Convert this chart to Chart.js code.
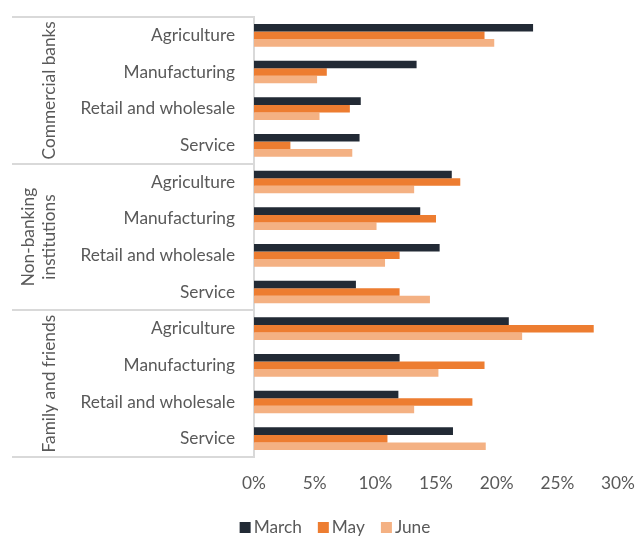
<!DOCTYPE html>
<html>
<head>
<meta charset="utf-8">
<script src="https://cdn.jsdelivr.net/npm/chart.js@4/dist/chart.umd.min.js"></script>
<style>
  html, body { margin: 0; padding: 0; background: #fff; }
  canvas { display: block; }
</style>
</head>
<body>
<canvas id="chart" width="641" height="537"></canvas>
<script>
// Sectors, repeated for each source of finance
const sectors = [
  'Agriculture', 'Manufacturing', 'Retail and wholesale', 'Service',
  'Agriculture', 'Manufacturing', 'Retail and wholesale', 'Service',
  'Agriculture', 'Manufacturing', 'Retail and wholesale', 'Service'
];
// Source of finance groups (multi-line entries wrap onto several lines)
const sources = ['Commercial banks', ['Non-banking', 'institutions'], 'Family and friends'];
const sectorsPerSource = 4;

// Share of firms (%) by month
const march = [23, 13.4, 8.8, 8.7, 16.3, 13.7, 15.3, 8.4, 21, 12, 11.9, 16.4];
const may   = [19, 6, 7.9, 3, 17, 15, 12, 12, 28, 19, 18, 11];
const june  = [19.8, 5.2, 5.4, 8.1, 13.2, 10.1, 10.8, 14.5, 22.1, 15.2, 13.2, 19.1];

const seriesNames = ['March', 'May', 'June'];
const xTickLabels = ['0%', '5%', '10%', '15%', '20%', '25%', '30%'];

const FONT = 'Lato';
const FONT_SIZE = 17.3;
const TEXT = '#595959';
const RULE = '#d9d9d9';
const colors = ['#222a35', '#ed7d31', '#f4b183'];

Chart.defaults.font.family = FONT;
Chart.defaults.font.size = FONT_SIZE;
Chart.defaults.color = TEXT;

// Group labels and separator rules on the left of the category axis
const groupAxis = {
  id: 'groupAxis',
  afterDraw(chart) {
    const ctx = chart.ctx;
    const y = chart.scales.y;
    const band = y.getPixelForValue(1) - y.getPixelForValue(0);
    const left = 12;
    const right = chart.chartArea.left;
    ctx.save();
    ctx.strokeStyle = RULE;
    ctx.lineWidth = 2;
    for (let g = 0; g <= sources.length; g++) {
      const py = Math.round(y.getPixelForValue(g * sectorsPerSource) - band / 2);
      ctx.beginPath();
      ctx.moveTo(left, py);
      ctx.lineTo(right, py);
      ctx.stroke();
    }
    ctx.fillStyle = TEXT;
    ctx.font = FONT_SIZE + 'px ' + FONT;
    ctx.textAlign = 'center';
    ctx.textBaseline = 'alphabetic';
    sources.forEach((label, g) => {
      const lines = Array.isArray(label) ? label : [label];
      const top = y.getPixelForValue(g * sectorsPerSource) - band / 2;
      const bottom = y.getPixelForValue((g + 1) * sectorsPerSource) - band / 2;
      ctx.save();
      ctx.translate(55, (top + bottom) / 2);
      ctx.rotate(-Math.PI / 2);
      lines.forEach((line, i) => {
        ctx.fillText(line, 0, (i - (lines.length - 1)) * 21);
      });
      ctx.restore();
    });
    ctx.restore();
  }
};

// Legend drawn as a single centred row under the axis
const rowLegend = {
  id: 'rowLegend',
  afterDraw(chart) {
    const ctx = chart.ctx;
    ctx.save();
    ctx.font = FONT_SIZE + 'px ' + FONT;
    ctx.textBaseline = 'alphabetic';
    ctx.textAlign = 'left';
    const box = 11, gapText = 3, gapItem = 16;
    const items = chart.data.datasets.map(ds => ({
      text: ds.label, color: ds.backgroundColor, w: ctx.measureText(ds.label).width
    }));
    const total = items.reduce((s, it) => s + box + gapText + it.w, 0) + gapItem * (items.length - 1);
    let x = 335 - total / 2;
    const baseline = 533;
    items.forEach(it => {
      ctx.fillStyle = it.color;
      ctx.fillRect(x, baseline - box, box, box);
      x += box + gapText;
      ctx.fillStyle = TEXT;
      ctx.fillText(it.text, x, baseline);
      x += it.w + gapItem;
    });
    ctx.restore();
  }
};

new Chart(document.getElementById('chart'), {
  type: 'bar',
  data: {
    labels: sectors,
    datasets: [march, may, june].map((values, i) => ({
      label: seriesNames[i],
      data: values,
      backgroundColor: colors[i],
      borderWidth: 0,
      categoryPercentage: 0.62,
      barPercentage: 1
    }))
  },
  options: {
    indexAxis: 'y',
    responsive: false,
    animation: false,
    devicePixelRatio: 1,
    layout: { padding: { top: 17, right: 23, left: 0, bottom: 0 } },
    plugins: {
      legend: { display: false },
      tooltip: { enabled: false }
    },
    scales: {
      x: {
        min: 0,
        max: 30,
        grid: { display: false, drawTicks: false },
        border: { display: false },
        ticks: {
          stepSize: 5,
          padding: 16,
          color: TEXT,
          callback: (v) => xTickLabels[Math.round(v / 5)]
        },
        afterFit(scale) {
          scale.height = 80;
          scale.paddingLeft = 0;
          scale.paddingRight = 0;
        }
      },
      y: {
        grid: { display: false, drawTicks: false },
        border: { display: true, color: RULE, width: 2 },
        ticks: { padding: 19, color: TEXT, autoSkip: false },
        afterFit(scale) {
          scale.width = 254;
          scale.paddingTop = 0;
          scale.paddingBottom = 0;
        }
      }
    }
  },
  plugins: [groupAxis, rowLegend]
});
</script>
</body>
</html>
